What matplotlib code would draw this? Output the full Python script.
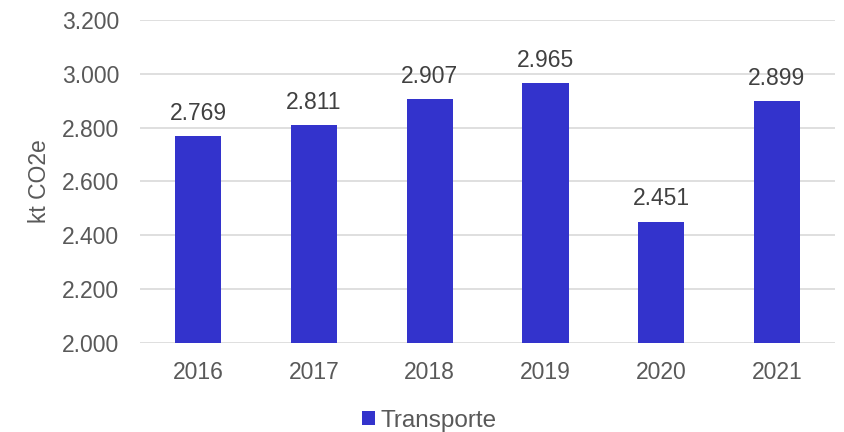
import matplotlib
matplotlib.use("Agg")
import matplotlib.pyplot as plt
from matplotlib.patches import Patch

years = ["2016", "2017", "2018", "2019", "2020", "2021"]
transporte = [2769, 2811, 2907, 2965, 2451, 2899]
yticks = [2000, 2200, 2400, 2600, 2800, 3000, 3200]

BAR = "#3333CC"
TICK = "#595959"
LABEL = "#404040"
FS = 16.5

plt.rcParams["font.family"] = ["Liberation Sans", "DejaVu Sans"]

fig = plt.figure(figsize=(8.45, 4.32), dpi=100)
ax = fig.add_axes([0.166, 0.206, 0.822, 0.748])

xs = list(range(len(years)))
ax.bar(xs, transporte, width=0.4, color=BAR, zorder=3)

for x, v in zip(xs, transporte):
    lab = f"{v:,}".replace(",", ".")
    ax.annotate(lab, (x, v), xytext=(0, 8), textcoords="offset points",
                ha="center", va="bottom", fontsize=FS, color=LABEL)

ax.set_ylim(2000, 3200)
ax.set_xlim(-0.5, len(years) - 0.5)
ax.set_yticks(yticks)
ax.set_yticklabels([f"{t:,}".replace(",", ".") for t in yticks])
ax.set_xticks(xs)
ax.set_xticklabels(years)
ax.tick_params(length=0, labelsize=FS, labelcolor=TICK)
ax.tick_params(axis="x", pad=13)
ax.tick_params(axis="y", pad=15)
ax.set_ylabel("kt CO2e", fontsize=FS, color=TICK, labelpad=8)
ax.grid(axis="y", color="#d9d9d9", linewidth=1.2, zorder=0)
for s in ax.spines.values():
    s.set_visible(False)

handles = [Patch(facecolor=BAR, label="Transporte")]
fig.legend(handles=handles, loc="center", bbox_to_anchor=(0.508, 0.026),
           frameon=False, fontsize=17.5, handlelength=0.55, handleheight=0.55,
           handletextpad=0.2, labelcolor=TICK, borderpad=0)

fig.savefig("out.png", dpi=100)
